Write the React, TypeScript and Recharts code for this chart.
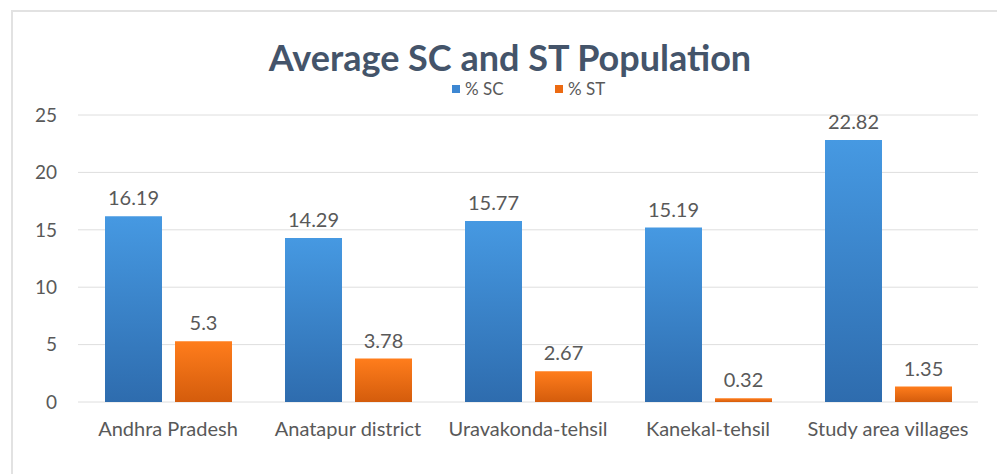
import { Bar, BarChart, CartesianGrid, LabelList, XAxis, YAxis } from "recharts";

const categories = [
  "Andhra Pradesh",
  "Anatapur district",
  "Uravakonda-tehsil",
  "Kanekal-tehsil",
  "Study area villages",
];
const scValues = [16.19, 14.29, 15.77, 15.19, 22.82];
const stValues = [5.3, 3.78, 2.67, 0.32, 1.35];
const yTicks = [0, 5, 10, 15, 20, 25];

const data = categories.map((name, i) => ({ name, sc: scValues[i], st: stValues[i] }));

const FONT = "Lato, 'Open Sans', sans-serif";
const TEXT = "#595959";

function LegendItem({ color, label, left }: { color: string; label: string; left: number }) {
  return (
    <div
      style={{
        position: "absolute",
        left,
        top: 80,
        display: "flex",
        alignItems: "center",
        fontSize: 17,
        lineHeight: "17px",
        color: TEXT,
      }}
    >
      <span style={{ display: "inline-block", width: 8, height: 8, background: color, marginRight: 5 }} />
      {label}
    </div>
  );
}

export default function App() {
  return (
    <div style={{ position: "absolute", left: 0, top: 0, width: 997, height: 474, background: "#fff", fontFamily: FONT }}>
      <div
        style={{
          position: "absolute",
          left: 11,
          top: 10,
          width: 986,
          height: 464,
          borderTop: "2px solid #e2e2e2",
          borderLeft: "2px solid #e2e2e2",
        }}
      />
      <div
        style={{
          position: "absolute",
          left: 0,
          top: 39,
          width: 1020,
          textAlign: "center",
          fontSize: 36,
          lineHeight: "36px",
          fontWeight: 700,
          color: "#44546a",
        }}
      >
        Average SC and ST Population
      </div>
      <BarChart
        width={997}
        height={474}
        data={data}
        margin={{ top: 115, right: 19, bottom: 0, left: 8 }}
        barCategoryGap="15%"
        barGap={13}
        style={{ position: "absolute", left: 0, top: 0 }}
      >
        <defs>
          <linearGradient id="scFill" x1="0" y1="0" x2="0" y2="1">
            <stop offset="0%" stopColor="#4699e2" />
            <stop offset="100%" stopColor="#2e6cae" />
          </linearGradient>
          <linearGradient id="stFill" x1="0" y1="0" x2="0" y2="1">
            <stop offset="0%" stopColor="#ff7d1c" />
            <stop offset="100%" stopColor="#d45c0c" />
          </linearGradient>
        </defs>
        <CartesianGrid vertical={false} stroke="#dedede" />
        <XAxis
          dataKey="name"
          height={72}
          axisLine={false}
          tickLine={false}
          tickMargin={14}
          tick={{ fontSize: 20, fill: TEXT, fontFamily: FONT }}
          interval={0}
        />
        <YAxis
          width={70}
          domain={[0, 25]}
          ticks={yTicks}
          axisLine={false}
          tickLine={false}
          tickMargin={15}
          tick={{ fontSize: 19, fill: TEXT, fontFamily: FONT }}
        />
        <Bar dataKey="sc" name="% SC" fill="url(#scFill)" isAnimationActive={false}>
          <LabelList dataKey="sc" position="top" offset={11} style={{ fontSize: 20, fill: TEXT, fontFamily: FONT }} />
        </Bar>
        <Bar dataKey="st" name="% ST" fill="url(#stFill)" isAnimationActive={false}>
          <LabelList dataKey="st" position="top" offset={11} style={{ fontSize: 20, fill: TEXT, fontFamily: FONT }} />
        </Bar>
      </BarChart>
      <LegendItem color="#3d87d2" label="% SC" left={452} />
      <LegendItem color="#ec6a12" label="% ST" left={555} />
    </div>
  );
}
